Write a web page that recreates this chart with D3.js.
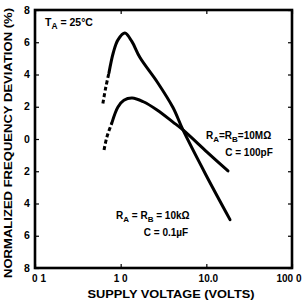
<!DOCTYPE html>
<html>
<head>
<meta charset="utf-8">
<script src="https://cdn.jsdelivr.net/npm/d3@7"></script>
<style>
  body { margin: 0; background: #fff; }
  text { font-family: "Liberation Sans", Arial, sans-serif; font-weight: bold; fill: #000; }
</style>
</head>
<body>
<div id="chart"></div>
<script>
// tick values and their printed labels (scan lost the decimal points)
var xTicks = [0.1, 1, 10, 100];
var xTickLabels = ["0 1", "1 0", "10.0", "100 0"];
var yTicks = [8, 6, 4, 2, 0, -2, -4, -6, -8];
var yTickLabels = ["8", "6", "4", "2", "0", "2", "4", "6", "8"];

// RA = RB = 10k, C = 0.1uF  (tall curve)
var tallDashVolts = [0.62, 0.67, 0.73];
var tallDashDev = [2.2, 3.2, 4.1];
var tallVolts = [0.73, 0.82, 0.93, 1.12, 1.35, 1.68, 2.66, 4.08, 5.34, 9.9, 18.9];
var tallDev = [4.1, 5.35, 6.15, 6.57, 6.05, 5.05, 3.55, 1.95, 0.56, -2.23, -5.0];

// RA = RB = 10M, C = 100pF  (low curve)
var lowDashVolts = [0.64, 0.69, 0.79];
var lowDashDev = [-0.68, 0.12, 1.0];
var lowVolts = [0.79, 0.93, 1.09, 1.36, 1.84, 2.66, 4.08, 5.34, 10.2, 17.9];
var lowDev = [1.0, 1.98, 2.4, 2.54, 2.31, 1.8, 1.05, 0.56, -0.81, -1.98];

var width = 305, height = 303;
var margin = { left: 35, right: 13, top: 10, bottom: 35 };

var svg = d3.select("#chart").append("svg")
    .attr("width", width)
    .attr("height", height);

var x = d3.scaleLog()
    .domain([0.1, 100])
    .range([margin.left, width - margin.right]);

var y = d3.scaleLinear()
    .domain([8, -8])
    .range([margin.top, height - margin.bottom]);

// small inner ticks on all four sides
var tickLen = 4;
svg.append("g")
    .attr("transform", "translate(0," + y(-8) + ")")
    .call(d3.axisTop(x).tickValues(xTicks).tickSize(tickLen).tickFormat(""))
    .call(function (g) { g.select(".domain").remove(); });
svg.append("g")
    .attr("transform", "translate(0," + y(8) + ")")
    .call(d3.axisBottom(x).tickValues(xTicks).tickSize(tickLen).tickFormat(""))
    .call(function (g) { g.select(".domain").remove(); });
svg.append("g")
    .attr("transform", "translate(" + x(0.1) + ",0)")
    .call(d3.axisRight(y).tickValues(yTicks).tickSize(tickLen).tickFormat(""))
    .call(function (g) { g.select(".domain").remove(); });
svg.append("g")
    .attr("transform", "translate(" + x(100) + ",0)")
    .call(d3.axisLeft(y).tickValues(yTicks).tickSize(tickLen).tickFormat(""))
    .call(function (g) { g.select(".domain").remove(); });
svg.selectAll(".tick line").attr("stroke", "#000").attr("stroke-width", 1.2);

// frame
svg.append("rect")
    .attr("x", x(0.1))
    .attr("y", y(8))
    .attr("width", x(100) - x(0.1))
    .attr("height", y(-8) - y(8))
    .attr("fill", "none")
    .attr("stroke", "#000")
    .attr("stroke-width", 2.6);

// tick labels
var xLabShift = [4, 0, 2, -3];
svg.selectAll(".xlab")
    .data(xTicks)
    .enter().append("text")
    .attr("class", "xlab")
    .attr("x", function (d, i) { return x(d) + xLabShift[i]; })
    .attr("y", 282)
    .attr("text-anchor", "middle")
    .attr("font-size", 10)
    .text(function (d, i) { return xTickLabels[i]; });

svg.selectAll(".ylab")
    .data(yTicks)
    .enter().append("text")
    .attr("class", "ylab")
    .attr("x", 27)
    .attr("y", function (d) { return y(d) + 3.5; })
    .attr("text-anchor", "middle")
    .attr("font-size", 10.5)
    .text(function (d, i) { return yTickLabels[i]; });

// axis titles
svg.append("text")
    .attr("x", 171)
    .attr("y", 298)
    .attr("text-anchor", "middle")
    .attr("font-size", 11)
    .attr("textLength", 167)
    .attr("lengthAdjust", "spacingAndGlyphs")
    .text("SUPPLY VOLTAGE (VOLTS)");

svg.append("text")
    .attr("transform", "translate(12,143) rotate(-90)")
    .attr("text-anchor", "middle")
    .attr("font-size", 10.5)
    .attr("textLength", 270)
    .attr("lengthAdjust", "spacingAndGlyphs")
    .text("NORMALIZED FREQUENCY DEVIATION (%)");

// curves
var line = d3.line()
    .x(function (d) { return x(d[0]); })
    .y(function (d) { return y(d[1]); })
    .curve(d3.curveCatmullRom);

function pairs(xs, ys) {
    return xs.map(function (v, i) { return [v, ys[i]]; });
}

var curves = [
    { pts: pairs(tallDashVolts, tallDashDev), dash: "4,2.5" },
    { pts: pairs(tallVolts, tallDev), dash: null },
    { pts: pairs(lowDashVolts, lowDashDev), dash: "4,2.5" },
    { pts: pairs(lowVolts, lowDev), dash: null }
];

svg.selectAll(".curve")
    .data(curves)
    .enter().append("path")
    .attr("class", "curve")
    .attr("d", function (d) { return line(d.pts); })
    .attr("fill", "none")
    .attr("stroke", "#000")
    .attr("stroke-width", 3)
    .attr("stroke-linecap", function (d) { return d.dash ? "butt" : "round"; })
    .attr("stroke-dasharray", function (d) { return d.dash; });

// annotations with subscripts
function subLabel(xp, yp, parts, size) {
    var t = svg.append("text")
        .attr("x", xp)
        .attr("y", yp)
        .attr("font-size", size);
    parts.forEach(function (p) {
        var s = t.append("tspan").text(p[0]);
        if (p[1]) {
            s.attr("font-size", size * 0.8).attr("dy", 3);
        } else {
            s.attr("dy", p[2] || 0);
        }
    });
    return t;
}

subLabel(45, 26, [["T"], ["A", true], [" = 25\u00b0C", false, -3]], 10.5);

subLabel(206, 139, [["R"], ["A", true], ["=R", false, -3], ["B", true], ["=10M\u03a9", false, -3]], 10);
svg.append("text").attr("x", 249).attr("y", 156).attr("text-anchor", "middle")
    .attr("font-size", 10).text("C = 100pF");

subLabel(116, 219, [["R"], ["A", true], [" = R", false, -3], ["B", true], [" = 10k\u03a9", false, -3]], 10);
svg.append("text").attr("x", 166).attr("y", 236).attr("text-anchor", "middle")
    .attr("font-size", 10).text("C = 0.1\u00b5F");
</script>
</body>
</html>
